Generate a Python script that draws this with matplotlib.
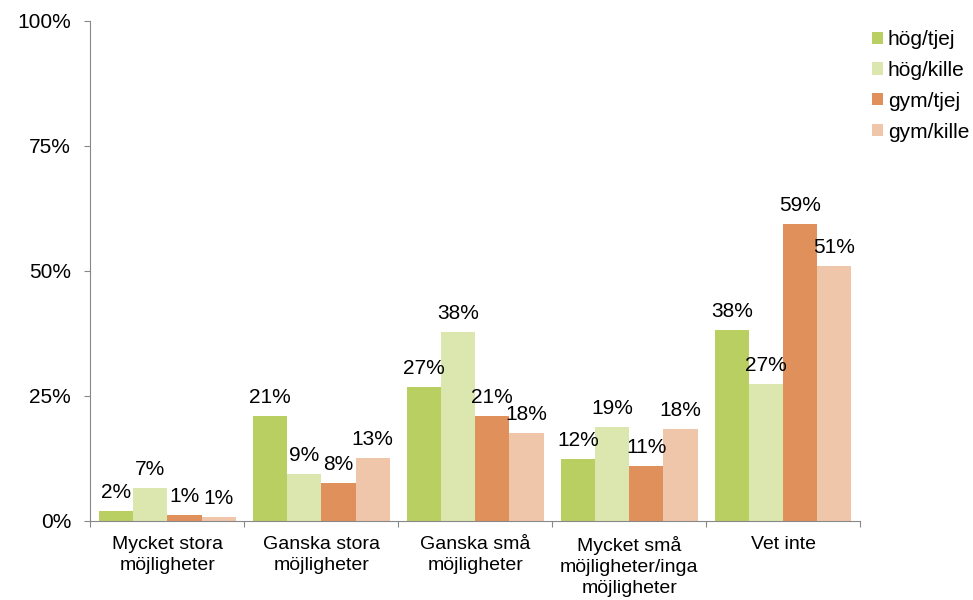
import matplotlib
matplotlib.use("Agg")
import matplotlib.pyplot as plt
import numpy as np

plt.rcParams['font.family'] = ['Liberation Sans', 'DejaVu Sans']

categories = ["Mycket stora\nmöjligheter", "Ganska stora\nmöjligheter", "Ganska små\nmöjligheter",
              "Mycket små\nmöjligheter/inga\nmöjligheter", "Vet inte"]
series_names = ["hög/tjej", "hög/kille", "gym/tjej", "gym/kille"]
hog_tjej = [2.0, 21.0, 26.7, 12.4, 38.2]
hog_kille = [6.6, 9.4, 37.8, 18.8, 27.3]
gym_tjej = [1.2, 7.6, 21.0, 11.0, 59.4]
gym_kille = [0.8, 12.6, 17.6, 18.4, 51.0]
labels = [["2%", "21%", "27%", "12%", "38%"],
          ["7%", "9%", "38%", "19%", "27%"],
          ["1%", "8%", "21%", "11%", "59%"],
          ["1%", "13%", "18%", "18%", "51%"]]
ytick_vals = [0, 25, 50, 75, 100]
ytick_labels = ["0%", "25%", "50%", "75%", "100%"]
colors = ["#BACF62", "#DCE7B0", "#E0905A", "#F0C6AA"]

fig = plt.figure(figsize=(9.73, 6.0), dpi=100)
ax = fig.add_axes([0.093, 0.1322, 0.7909, 0.8333])

series = [hog_tjej, hog_kille, gym_tjej, gym_kille]
x = np.arange(len(categories))
w = 0.222
for i, (vals, c, name) in enumerate(zip(series, colors, series_names)):
    pos = x + (i - 1.5) * w
    bars = ax.bar(pos, vals, w, color=c, label=name, linewidth=0)
    for b, lab in zip(bars, labels[i]):
        ax.text(b.get_x() + b.get_width() / 2, b.get_height() + 1.8, lab,
                ha='center', va='bottom', fontsize=15, color='#000000')

ax.set_xlim(-0.5, len(categories) - 0.5)
ax.set_ylim(0, 100)
ax.set_yticks(ytick_vals)
ax.set_yticklabels(ytick_labels, fontsize=15)
ax.set_xticks(np.arange(len(categories) + 1) - 0.5, minor=False)
ax.set_xticklabels([])
ax.set_xticks(x, minor=True)
ax.set_xticklabels(categories, minor=True, fontsize=14, linespacing=1.3)
ax.tick_params(axis='x', which='minor', length=0, pad=11)
ax.tick_params(axis='x', which='major', length=4, color='#888888', direction='out')
ax.tick_params(axis='y', length=4, color='#888888', direction='out', pad=10)
for s in ['top', 'right']:
    ax.spines[s].set_visible(False)
for s in ['left', 'bottom']:
    ax.spines[s].set_color('#888888')

fig.legend(loc='upper left', bbox_to_anchor=(0.896, 0.95), frameon=False,
           fontsize=15, handlelength=0.52, handleheight=0.52, handletextpad=0.25,
           labelspacing=0.57, borderaxespad=0, borderpad=0)

fig.savefig("out.png", dpi=100)
